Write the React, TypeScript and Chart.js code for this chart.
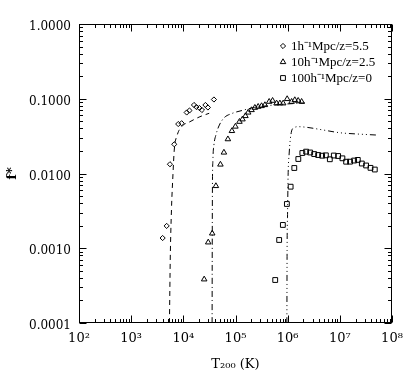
import React, { useEffect, useRef } from 'react';
import { Chart, registerables } from 'chart.js';

Chart.register(...registerables);

// ---- data ----
const T_1MPC = [4010, 4790, 5540, 6700, 7990, 9280, 11600, 13100, 16000, 17800, 20300, 22700, 26500, 29600, 38600];
const F_1MPC = [0.00137, 0.00199, 0.0133, 0.0246, 0.0459, 0.047, 0.0655, 0.0696, 0.0825, 0.0775, 0.0752, 0.0707, 0.0825, 0.0764, 0.0977];

const T_10MPC = [2.51e4, 3.0e4, 3.58e4, 4.21e4, 5.14e4, 6.0e4, 7.15e4, 8.53e4, 9.96e4, 1.19e5, 1.36e5, 1.55e5, 1.75e5, 2.03e5, 2.35e5, 2.72e5, 3.16e5, 3.66e5, 4.42e5, 5.14e5, 6.13e5, 7.09e5, 8.2e5, 9.78e5, 1.19e6, 1.37e6, 1.59e6, 1.85e6];
const F_10MPC = [3.84e-4, 1.2e-3, 1.58e-3, 6.81e-3, 0.0132, 0.0191, 0.0288, 0.0371, 0.0425, 0.0493, 0.0531, 0.0588, 0.0655, 0.0707, 0.0759, 0.0783, 0.08, 0.0825, 0.0913, 0.0942, 0.0869, 0.0869, 0.0869, 0.0993, 0.0913, 0.0962, 0.0942, 0.0913];

const T_100MPC = [5.77e5, 6.87e5, 8.09e5, 9.66e5, 1.14e6, 1.34e6, 1.6e6, 1.91e6, 2.26e6, 2.7e6, 3.22e6, 3.84e6, 4.58e6, 5.4e6, 6.43e6, 7.67e6, 9.27e6, 1.12e7, 1.32e7, 1.57e7, 1.88e7, 2.21e7, 2.64e7, 3.19e7, 3.87e7, 4.68e7];
const F_100MPC = [3.76e-4, 1.29e-3, 2.05e-3, 3.91e-3, 6.66e-3, 0.01185, 0.01563, 0.0188, 0.0196, 0.0191, 0.0182, 0.01767, 0.0173, 0.0175, 0.0155, 0.0174, 0.01715, 0.01597, 0.01438, 0.0144, 0.0149, 0.0152, 0.0136, 0.0128, 0.0119, 0.0113];

const CURVE_1_T = [5420, 5610, 5920, 6320, 6700, 7640, 9280, 13400, 20800, 31300];
const CURVE_1_F = [1e-4, 6.97e-4, 3.25e-3, 9.55e-3, 0.0206, 0.0327, 0.0423, 0.0493, 0.0575, 0.0639];

const CURVE_10_T = [3.56e4, 3.58e4, 3.61e4, 3.69e4, 3.86e4, 4.21e4, 4.81e4, 6.0e4, 8.53e4, 1.33e5, 2.06e5, 3.66e5, 7.09e5, 1.37e6, 2.14e6];
const CURVE_10_F = [1e-4, 9.48e-4, 6.01e-3, 0.0152, 0.0241, 0.0327, 0.0432, 0.0553, 0.0635, 0.0696, 0.0752, 0.08, 0.0838, 0.0864, 0.0877];

const CURVE_100_T = [9.66e5, 9.75e5, 9.96e5, 1.02e6, 1.07e6, 1.12e6, 1.19e6, 1.31e6, 1.57e6, 2.3e6, 4.79e6, 1.0e7, 2.09e7, 5.05e7];
const CURVE_100_F = [1e-4, 9.48e-4, 2.96e-3, 9.55e-3, 0.0188, 0.0281, 0.0371, 0.0406, 0.0423, 0.0415, 0.0382, 0.0351, 0.0338, 0.0327];

const SERIES_LABELS = ['1h⁻¹Mpc/z=5.5', '10h⁻¹Mpc/z=2.5', '100h⁻¹Mpc/z=0'];
const X_TICKS = [1e2, 1e3, 1e4, 1e5, 1e6, 1e7, 1e8];
const Y_TICKS = [1e-4, 1e-3, 1e-2, 1e-1, 1];
const X_TITLE = 'T₂₀₀ (K)';
const Y_TITLE = 'f*';

const FONT = 'DejaVu Serif';
const LEGEND_FONT = 'Liberation Serif';
const SUP: Record<string, string> = { '0': '⁰', '1': '¹', '2': '²', '3': '³', '4': '⁴', '5': '⁵', '6': '⁶', '7': '⁷', '8': '⁸', '9': '⁹', '-': '⁻' };
const sup = (s: string) => s.split('').map((c) => SUP[c] || c).join('');

const pts = (xs: number[], ys: number[]) => xs.map((x, i) => ({ x, y: ys[i] }));

function drawSymbol(ctx: CanvasRenderingContext2D, style: string, x: number, y: number, r: number) {
  ctx.beginPath();
  if (style === 'rectRot') {
    ctx.moveTo(x - r, y); ctx.lineTo(x, y - r); ctx.lineTo(x + r, y); ctx.lineTo(x, y + r); ctx.closePath();
  } else if (style === 'triangle') {
    ctx.moveTo(x, y - r);
    ctx.lineTo(x + r * Math.sin((2 * Math.PI) / 3), y - r * Math.cos((2 * Math.PI) / 3));
    ctx.lineTo(x + r * Math.sin((4 * Math.PI) / 3), y - r * Math.cos((4 * Math.PI) / 3));
    ctx.closePath();
  } else {
    const h = r * Math.SQRT1_2;
    ctx.rect(x - h, y - h, 2 * h, 2 * h);
  }
  ctx.stroke();
}

const framePlugin = {
  id: 'idlFrame',
  afterDraw(chart: any) {
    const { ctx, chartArea: a, scales } = chart;
    const xs = scales.x, ys = scales.y;
    ctx.save();
    ctx.strokeStyle = '#000';
    ctx.lineWidth = 1;
    const L = Math.round(a.left) + 0.5, R = Math.round(a.right) - 0.5;
    const T = Math.round(a.top) + 0.5, B = Math.round(a.bottom) - 0.5;
    ctx.strokeRect(L, T, R - L, B - T);
    const major = 7, minor = 3.5;
    ctx.beginPath();
    for (let i = 0; i < X_TICKS.length; i++) {
      const dec = X_TICKS[i];
      for (let m = 1; m <= 9; m++) {
        const v = dec * m;
        if (v > X_TICKS[X_TICKS.length - 1]) break;
        const px = Math.round(xs.getPixelForValue(v)) + 0.5;
        const len = m === 1 ? major : minor;
        ctx.moveTo(px, B); ctx.lineTo(px, B - len);
        ctx.moveTo(px, T); ctx.lineTo(px, T + len);
      }
    }
    for (let i = 0; i < Y_TICKS.length; i++) {
      const dec = Y_TICKS[i];
      for (let m = 1; m <= 9; m++) {
        const v = dec * m;
        if (v > Y_TICKS[Y_TICKS.length - 1] * 1.0001) break;
        const py = Math.round(ys.getPixelForValue(v)) + 0.5;
        const len = m === 1 ? major : minor;
        ctx.moveTo(L, py); ctx.lineTo(L + len, py);
        ctx.moveTo(R, py); ctx.lineTo(R - len, py);
      }
    }
    ctx.stroke();

    // legend (inside, upper right)
    const styles = ['rectRot', 'triangle', 'rect'];
    const radii = [2.6, 3.2, 3.4];
    ctx.font = `13px "${LEGEND_FONT}"`;
    ctx.fillStyle = '#000';
    ctx.textBaseline = 'middle';
    ctx.textAlign = 'left';
    const lx = a.left + 204, ly0 = a.top + 22, dy = 16;
    SERIES_LABELS.forEach((lab, i) => {
      const y = ly0 + i * dy;
      drawSymbol(ctx, styles[i], lx, y, radii[i]);
      ctx.fillText(lab, lx + 8, y + 0.5);
    });
    ctx.restore();
  },
};

const baseFont = { family: FONT, size: 12 };

export default function App() {
  const ref = useRef<HTMLCanvasElement>(null);
  useEffect(() => {
    const scatter = (label: string, xs: number[], ys: number[], style: string, r: number) => ({
      label,
      data: pts(xs, ys),
      showLine: false,
      pointStyle: style,
      pointRadius: r,
      pointBorderWidth: 1,
      pointBorderColor: '#000',
      pointBackgroundColor: 'rgba(0,0,0,0)',
      borderColor: '#000',
    });
    const curve = (label: string, xs: number[], ys: number[], dash: number[]) => ({
      label,
      data: pts(xs, ys),
      showLine: true,
      pointRadius: 0,
      borderColor: '#000',
      borderWidth: 1,
      borderDash: dash,
      cubicInterpolationMode: 'monotone',
    });
    const chart = new Chart(ref.current as HTMLCanvasElement, {
      type: 'scatter',
      data: {
        datasets: [
          curve('curve1', CURVE_1_T, CURVE_1_F, [5, 4]),
          curve('curve10', CURVE_10_T, CURVE_10_F, [6, 3, 1, 3]),
          curve('curve100', CURVE_100_T, CURVE_100_F, [6, 3, 1, 3, 1, 3, 1, 3]),
          scatter(SERIES_LABELS[0], T_1MPC, F_1MPC, 'rectRot', 2.6),
          scatter(SERIES_LABELS[1], T_10MPC, F_10MPC, 'triangle', 3.2),
          scatter(SERIES_LABELS[2], T_100MPC, F_100MPC, 'rect', 3.4),
        ] as any,
      },
      options: {
        animation: false,
        responsive: false,
        devicePixelRatio: 1,
        layout: { padding: { left: 0, top: 24, right: 23, bottom: 0 } },
        plugins: { legend: { display: false }, tooltip: { enabled: false } },
        scales: {
          x: {
            type: 'logarithmic',
            position: 'bottom',
            min: 1e2,
            max: 1e8,
            afterBuildTicks: (s: any) => { s.ticks = X_TICKS.map((v) => ({ value: v })); },
            afterFit: (s: any) => { s.height = 51; },
            grid: { display: false, drawTicks: false },
            border: { display: false },
            ticks: {
              padding: 8,
              color: '#000',
              font: { ...baseFont, size: 13 },
              maxRotation: 0,
              autoSkip: false,
              callback: (v: any) => '10' + sup(String(Math.round(Math.log10(Number(v))))),
            },
            title: { display: true, text: X_TITLE, color: '#000', font: { ...baseFont, size: 13 }, padding: { top: 0, bottom: 2 } },
          },
          y: {
            type: 'logarithmic',
            position: 'left',
            min: 1e-4,
            max: 1,
            afterBuildTicks: (s: any) => { s.ticks = Y_TICKS.map((v) => ({ value: v })); },
            afterFit: (s: any) => { s.width = 79; },
            grid: { display: false, drawTicks: false },
            border: { display: false },
            ticks: {
              padding: 8,
              color: '#000',
              font: baseFont,
              autoSkip: false,
              labelOffset: 3,
              callback: (v: any) => Number(v).toFixed(4),
            },
            title: { display: true, text: Y_TITLE, color: '#000', font: { ...baseFont, size: 13, weight: 'bold' }, padding: { top: 5, bottom: 0 } },
          },
        },
      } as any,
      plugins: [framePlugin],
    });
    return () => chart.destroy();
  }, []);
  return (
    <div style={{ position: 'fixed', left: 0, top: 0, width: 415, height: 374, background: '#fff' }}>
      <canvas ref={ref} width={415} height={374} style={{ display: 'block', width: 415, height: 374 }} />
    </div>
  );
}
